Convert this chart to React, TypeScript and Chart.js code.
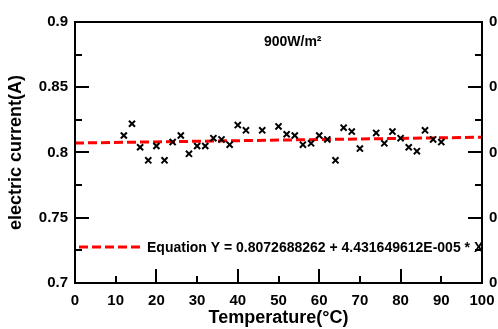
import React, { useEffect, useRef } from "react";
import { Chart, registerables } from "chart.js";

Chart.register(...registerables);

const temperatures = [12, 14, 16, 18, 20, 22, 24, 26, 28, 30, 32, 34, 36, 38, 40, 42, 46, 50, 52, 54, 56, 58, 60, 62, 64, 66, 68, 70, 74, 76, 78, 80, 82, 84, 86, 88, 90];
const currents = [0.813, 0.822, 0.804, 0.794, 0.805, 0.794, 0.808, 0.813, 0.799, 0.805, 0.805, 0.811, 0.810, 0.806, 0.821, 0.817, 0.817, 0.820, 0.814, 0.813, 0.806, 0.807, 0.813, 0.810, 0.794, 0.819, 0.816, 0.803, 0.815, 0.807, 0.816, 0.811, 0.804, 0.801, 0.817, 0.810, 0.808];

const fitX = [0, 100];
const fitY = [0.8072688262, 0.8117004758];

const xMajorTicks = [0, 20, 40, 60, 80, 100];
const xMinorTicks = [10, 30, 50, 70, 90];
const yMajorTicks = [0.7, 0.75, 0.8, 0.85, 0.9];
const yMinorTicks = [0.725, 0.775, 0.825, 0.875];

const equationText = "Equation Y = 0.8072688262 + 4.431649612E-005 * X";
const irradianceText = "900W/m\u00B2";
const irradiancePos = [53.5, 0.8848];

const FONT = "'Liberation Sans', Arial, sans-serif";

const framePlugin = {
  id: "framePlugin",
  afterDatasetsDraw(chart: any) {
    const { ctx, chartArea } = chart;
    const { left, right, top, bottom } = chartArea;
    const xs = chart.scales.x;
    const ys = chart.scales.y;
    ctx.save();
    ctx.strokeStyle = "#000";
    ctx.lineWidth = 2;
    ctx.lineCap = "butt";
    // frame
    ctx.beginPath();
    ctx.moveTo(left, top);
    ctx.lineTo(right, top);
    ctx.moveTo(left, top - 1);
    ctx.lineTo(left, bottom + 1);
    ctx.moveTo(right, top - 1);
    ctx.lineTo(right, bottom + 1);
    ctx.moveTo(left - 1, bottom);
    ctx.lineTo(right + 1, bottom);
    ctx.stroke();
    // ticks
    ctx.beginPath();
    yMajorTicks.forEach((v) => {
      const p = Math.round(ys.getPixelForValue(v));
      ctx.moveTo(left, p);
      ctx.lineTo(left + 14, p);
      ctx.moveTo(right, p);
      ctx.lineTo(right - 14, p);
    });
    yMinorTicks.forEach((v) => {
      const p = Math.round(ys.getPixelForValue(v));
      ctx.moveTo(left, p);
      ctx.lineTo(left + 7, p);
      ctx.moveTo(right, p);
      ctx.lineTo(right - 7, p);
    });
    xMajorTicks.forEach((v) => {
      const p = Math.round(xs.getPixelForValue(v));
      ctx.moveTo(p, bottom);
      ctx.lineTo(p, bottom - 14);
    });
    xMinorTicks.forEach((v) => {
      const p = Math.round(xs.getPixelForValue(v));
      ctx.moveTo(p, bottom);
      ctx.lineTo(p, bottom - 7);
    });
    ctx.stroke();

    // legend
    const ly = bottom - 36;
    ctx.strokeStyle = "#ff0000";
    ctx.lineWidth = 3;
    ctx.setLineDash([9, 4]);
    ctx.beginPath();
    ctx.moveTo(left + 4, ly);
    ctx.lineTo(left + 66, ly);
    ctx.stroke();
    ctx.setLineDash([]);
    ctx.fillStyle = "#000";
    ctx.font = `bold 14px ${FONT}`;
    ctx.textAlign = "left";
    ctx.textBaseline = "middle";
    ctx.fillText(equationText, left + 72, ly + 1);

    // annotation
    ctx.font = `bold 14px ${FONT}`;
    ctx.textAlign = "center";
    ctx.fillText(irradianceText, xs.getPixelForValue(irradiancePos[0]), ys.getPixelForValue(irradiancePos[1]));
    ctx.restore();
  },
};

export default function App() {
  const ref = useRef<HTMLCanvasElement>(null);
  useEffect(() => {
    if (!ref.current) return;
    const fmt = (v: any) => String(+Number(v).toFixed(3));
    const tickFont = { family: FONT, size: 15, weight: "bold" as const };
    const chart = new Chart(ref.current, {
      type: "scatter",
      data: {
        datasets: [
          {
            label: "data",
            data: temperatures.map((t, i) => ({ x: t, y: currents[i] })),
            pointStyle: "crossRot",
            pointRadius: 4.3,
            pointBorderWidth: 2,
            borderColor: "#000",
            backgroundColor: "#000",
            showLine: false,
          },
          {
            label: "fit",
            data: fitX.map((t, i) => ({ x: t, y: fitY[i] })),
            showLine: true,
            pointRadius: 0,
            borderColor: "#ff0000",
            borderWidth: 3,
            borderDash: [9, 4],
            fill: false,
          },
        ],
      },
      options: {
        responsive: false,
        animation: false,
        devicePixelRatio: 1,
        layout: { padding: { top: 22, left: 0, right: 0, bottom: 0 } },
        plugins: { legend: { display: false }, tooltip: { enabled: false } },
        scales: {
          x: {
            type: "linear",
            position: "bottom",
            min: 0,
            max: 100,
            afterFit: (s: any) => { s.height = 46; s.paddingLeft = 0; s.paddingRight = 0; },
            ticks: { stepSize: 10, color: "#000", font: tickFont, padding: 9, maxRotation: 0, autoSkip: false },
            grid: { display: false, drawTicks: false },
            border: { display: false },
            title: {
              display: true,
              text: "Temperature(\u00B0C)",
              color: "#000",
              font: { family: FONT, size: 18, weight: "bold" },
              padding: { top: 0, bottom: 0 },
            },
          },
          y: {
            type: "linear",
            position: "left",
            min: 0.7,
            max: 0.9,
            afterFit: (s: any) => { s.width = 75; s.paddingTop = 0; s.paddingBottom = 0; },
            ticks: { stepSize: 0.05, color: "#000", font: tickFont, padding: 7, callback: fmt, autoSkip: false },
            grid: { display: false, drawTicks: false },
            border: { display: false },
            title: {
              display: true,
              text: "electric current(A)",
              color: "#000",
              font: { family: FONT, size: 18, weight: "bold" },
              padding: { top: 5, bottom: 0 },
            },
          },
          y2: {
            type: "linear",
            position: "right",
            min: 0.7,
            max: 0.9,
            afterFit: (s: any) => { s.width = 16; s.paddingTop = 0; s.paddingBottom = 0; },
            ticks: { stepSize: 0.05, color: "#000", font: tickFont, padding: 7, callback: fmt, autoSkip: false },
            grid: { display: false, drawTicks: false },
            border: { display: false },
          },
        },
      },
      plugins: [framePlugin],
    });
    return () => chart.destroy();
  }, []);
  return (
    <div style={{ position: "fixed", left: 0, top: 0, width: 498, height: 329, background: "#fff" }}>
      <canvas ref={ref} width={498} height={329} style={{ display: "block" }} />
    </div>
  );
}
